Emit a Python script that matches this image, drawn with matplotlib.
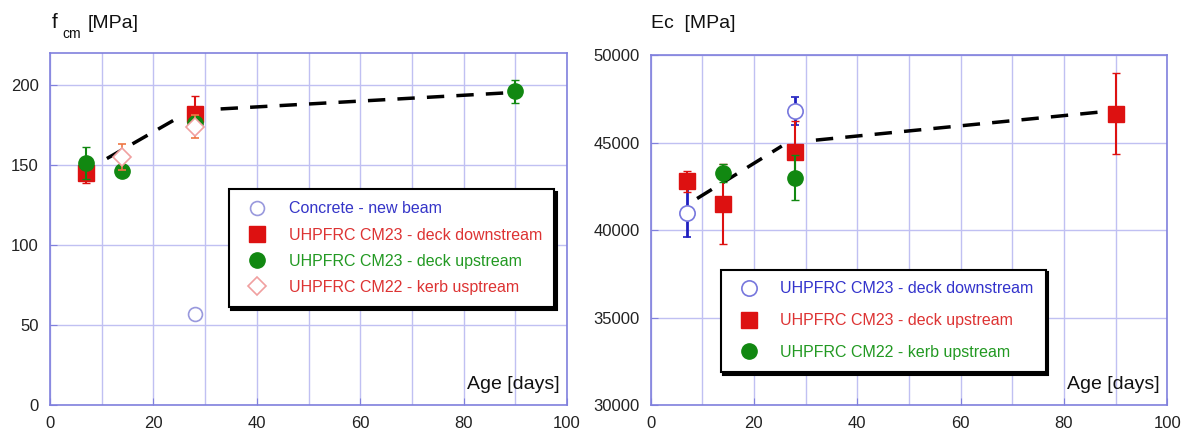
import matplotlib
matplotlib.use('Agg')
from matplotlib import pyplot as plt

plt.rcParams['font.family'] = ['Liberation Sans', 'DejaVu Sans']

# left chart: compressive strength fcm [MPa]
concX = [28]
concY = [57]
dDownX = [7, 28]
dDownY = [145, 182]
dDownErr = [6, 11]
dUpX = [7, 14, 28, 90]
dUpY = [151, 146, 176, 196]
dUpErr = [10, 0, 0, 7]
kerbX = [14, 28]
kerbY = [155, 174]
kerbErr = [8, 7]
fitFcmX1 = [11, 24.5]
fitFcmY1 = [154, 179]
fitFcmX2 = [33, 88]
fitFcmY2 = [185, 195]

# right chart: elastic modulus Ec [MPa]
ecDownX = [7, 28]
ecDownY = [41000, 46800]
ecDownErr = [1400, 800]
ecUpX = [7, 14, 28, 90]
ecUpY = [42800, 41500, 44450, 46650]
ecUpErr = [600, 2300, 1800, 2300]
ecKerbX = [14, 28]
ecKerbY = [43250, 43000]
ecKerbErr = [500, 1300]
fitEcX1 = [9, 25.4]
fitEcY1 = [41800, 44800]
fitEcX2 = [32, 87.5]
fitEcY2 = [45140, 46760]

fcmLabels = ['Concrete - new beam', 'UHPFRC CM23 - deck downstream',
             'UHPFRC CM23 - deck upstream', 'UHPFRC CM22 - kerb usptream']
ecLabels = ['UHPFRC CM23 - deck downstream', 'UHPFRC CM23 - deck upstream',
            'UHPFRC CM22 - kerb upstream']

frameCol = '#8080dd'
gridCol = '#c0c0f2'
blue = '#3535c8'
red = '#dd1111'
green = '#118811'
pink = '#f0a0a0'


def styleAxes(ax, yTicks):
    ax.set_xlim(0, 100)
    ax.set_xticks(range(0, 101, 20))
    ax.set_xticks(range(0, 101, 10), minor=True)
    ax.set_yticks(yTicks)
    ax.grid(True, which='both', axis='x', color=gridCol, lw=1)
    ax.grid(True, which='major', axis='y', color=gridCol, lw=1)
    ax.set_axisbelow(True)
    for s in ax.spines.values():
        s.set_color(frameCol)
        s.set_linewidth(1.2)
    ax.tick_params(which='major', direction='in', length=5, color=frameCol,
                   labelsize=12, labelcolor='#222222', pad=8)
    ax.tick_params(which='minor', length=0)
    ax.text(0.985, 0.035, 'Age [days]', transform=ax.transAxes, ha='right',
            va='bottom', fontsize=14, color='#111111')


def makeLegend(ax, handles, labels, anchor, colors, spacing):
    leg = ax.legend([h[0] for h in handles], labels, loc='upper left', bbox_to_anchor=anchor,
                    fontsize=11.5, frameon=True, fancybox=False,
                    shadow={'color': 'black', 'alpha': 1}, edgecolor='black',
                    labelcolor=colors, borderpad=0.75, labelspacing=spacing,
                    handletextpad=1.0, framealpha=1)
    leg.get_frame().set_linewidth(1.5)
    return leg


fig = plt.figure(figsize=(11.85, 4.32), dpi=100)
ax1 = fig.add_axes([0.0422, 0.0625, 0.4363, 0.815])
ax2 = fig.add_axes([0.549, 0.0625, 0.436, 0.810])

# left
styleAxes(ax1, range(0, 201, 50))
ax1.set_ylim(0, 220)
ax1.plot(fitFcmX1, fitFcmY1, color='black', lw=2.5, dashes=(5, 3.5), zorder=2)
ax1.plot(fitFcmX2, fitFcmY2, color='black', lw=2.5, dashes=(5, 3.5), zorder=2)
h1 = ax1.errorbar(concX, concY, fmt='o', ms=10, mfc='white', mec='#9999dd',
                  mew=1.2, zorder=3)
h2 = ax1.errorbar(dDownX, dDownY, yerr=dDownErr, fmt='s', ms=11, color=red,
                  ecolor=red, capsize=3, elinewidth=1.5, zorder=3)
h3 = ax1.errorbar(dUpX, dUpY, yerr=dUpErr, fmt='o', ms=11, color=green,
                  ecolor=green, capsize=3, elinewidth=1.5, zorder=4)
h4 = ax1.errorbar(kerbX, kerbY, yerr=kerbErr, fmt='D', ms=9, mfc='white', mec=pink,
                  ecolor='#ee7744', capsize=3, elinewidth=1.2, mew=1.2, zorder=5)
makeLegend(ax1, [h1, h2, h3, h4], fcmLabels, (0.33, 0.635),
           [blue, '#dd3333', '#229922', '#dd3333'], 0.7)
fig.text(0.044, 0.935, 'f', fontsize=15, color='#111111')
fig.text(0.053, 0.912, 'cm', fontsize=10, color='#111111')
fig.text(0.074, 0.935, '[MPa]', fontsize=14, color='#111111')

# right
styleAxes(ax2, range(30000, 50001, 5000))
ax2.set_ylim(30000, 50000)
ax2.plot(fitEcX1, fitEcY1, color='black', lw=2.5, dashes=(5, 3.5), zorder=2)
ax2.plot(fitEcX2, fitEcY2, color='black', lw=2.5, dashes=(5, 3.5), zorder=2)
g1 = ax2.errorbar(ecDownX, ecDownY, yerr=ecDownErr, fmt='o', ms=11, mfc='white', mec='#7777dd',
                  ecolor='#1f1fc0', capsize=3, elinewidth=2, mew=1.2, zorder=3)
g2 = ax2.errorbar(ecUpX, ecUpY, yerr=ecUpErr, fmt='s', ms=11, color=red,
                  ecolor=red, capsize=3, elinewidth=1.5, zorder=4)
g3 = ax2.errorbar(ecKerbX, ecKerbY, yerr=ecKerbErr, fmt='o', ms=11, color=green,
                  ecolor=green, capsize=3, elinewidth=1.5, zorder=5)
makeLegend(ax2, [g1, g2, g3], ecLabels, (0.12, 0.41), ['#3333cc', '#dd3333', '#229922'], 1.05)
fig.text(0.549, 0.935, 'Ec  [MPa]', fontsize=14, color='#111111')

fig.savefig('out.png', dpi=100)
